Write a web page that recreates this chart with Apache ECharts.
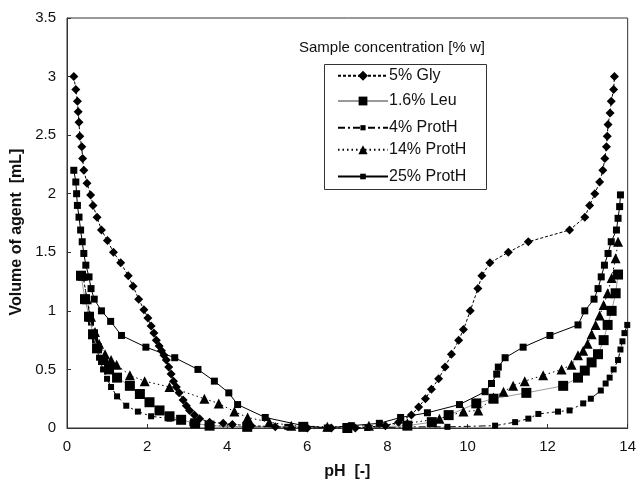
<!DOCTYPE html>
<html>
<head>
<meta charset="utf-8">
<script src="https://cdn.jsdelivr.net/npm/echarts@6/dist/echarts.min.js"></script>
<style>
  html, body { margin: 0; padding: 0; background: #fff; }
  #chart { width: 639px; height: 485px; }
</style>
</head>
<body>
<div id="chart"></div>
<script>
// 5% Gly
var glyPh = [0.17, 0.22, 0.26, 0.28, 0.3, 0.32, 0.37, 0.39, 0.42, 0.5, 0.59, 0.65, 0.75, 0.86, 1.01, 1.16, 1.34, 1.53, 1.65, 1.79, 1.92, 2.02, 2.1, 2.17, 2.23, 2.3, 2.36, 2.42, 2.48, 2.54, 2.6, 2.66, 2.73, 2.8, 2.9, 2.98, 3.06, 3.18, 3.31, 3.56, 3.9, 4.13, 4.6, 5.2, 6.0, 6.6, 7.2, 7.95, 8.28, 8.6, 8.78, 8.95, 9.1, 9.28, 9.44, 9.6, 9.78, 9.9, 10.07, 10.26, 10.36, 10.56, 11.02, 11.52, 12.55, 12.93, 13.05, 13.18, 13.3, 13.38, 13.43, 13.47, 13.49, 13.51, 13.56, 13.59, 13.65, 13.67];
var glyVol = [3.0, 2.89, 2.79, 2.7, 2.61, 2.49, 2.4, 2.3, 2.2, 2.09, 1.99, 1.9, 1.8, 1.69, 1.6, 1.5, 1.41, 1.3, 1.21, 1.1, 1.01, 0.94, 0.87, 0.81, 0.75, 0.7, 0.66, 0.62, 0.58, 0.52, 0.46, 0.4, 0.35, 0.3, 0.24, 0.19, 0.15, 0.11, 0.08, 0.05, 0.04, 0.03, 0.02, 0.01, 0.0, 0.0, 0.0, 0.02, 0.05, 0.11, 0.18, 0.25, 0.33, 0.42, 0.52, 0.63, 0.75, 0.84, 1.0, 1.19, 1.3, 1.41, 1.5, 1.59, 1.69, 1.8, 1.9, 2.0, 2.1, 2.2, 2.3, 2.4, 2.49, 2.59, 2.69, 2.79, 2.89, 3.0];

// 1.6% Leu
var leuPh = [0.35, 0.45, 0.55, 0.65, 0.75, 0.9, 1.05, 1.25, 1.57, 1.82, 2.06, 2.31, 2.56, 2.85, 3.2, 3.56, 4.5, 5.9, 7.0, 8.5, 9.11, 9.53, 10.22, 10.65, 11.47, 12.39, 12.76, 12.93, 13.1, 13.26, 13.4, 13.5, 13.6, 13.7, 13.76];
var leuVol = [1.3, 1.1, 0.95, 0.8, 0.68, 0.58, 0.5, 0.43, 0.36, 0.29, 0.22, 0.15, 0.1, 0.07, 0.04, 0.02, 0.01, 0.01, 0.0, 0.02, 0.05, 0.11, 0.21, 0.25, 0.3, 0.36, 0.43, 0.49, 0.56, 0.63, 0.75, 0.88, 1.0, 1.15, 1.31];

// 4% ProtH
var p4Ph = [0.4, 0.5, 0.6, 0.7, 0.8, 0.9, 1.0, 1.1, 1.25, 1.48, 1.77, 2.1, 2.56, 3.13, 3.6, 4.5, 5.5, 6.5, 7.5, 8.5, 9.5, 10.69, 11.19, 11.52, 11.77, 12.26, 12.55, 12.89, 13.08, 13.33, 13.45, 13.55, 13.65, 13.76, 13.82, 13.87, 13.92, 13.99];
var p4Vol = [1.3, 1.1, 0.9, 0.75, 0.6, 0.5, 0.42, 0.35, 0.27, 0.19, 0.14, 0.1, 0.08, 0.04, 0.02, 0.01, 0.01, 0.0, 0.0, 0.01, 0.01, 0.02, 0.05, 0.08, 0.12, 0.14, 0.15, 0.21, 0.25, 0.32, 0.38, 0.43, 0.5, 0.58, 0.67, 0.74, 0.81, 0.88];

// 14% ProtH
var p14Ph = [0.4, 0.5, 0.6, 0.7, 0.8, 0.95, 1.1, 1.24, 1.57, 1.94, 2.56, 3.43, 3.79, 4.18, 4.51, 5.05, 5.6, 6.5, 7.54, 8.5, 9.3, 9.9, 10.27, 10.65, 10.9, 11.14, 11.43, 11.89, 12.35, 12.6, 12.76, 12.89, 13.0, 13.1, 13.2, 13.3, 13.4, 13.5, 13.6, 13.7, 13.76];
var p14Vol = [1.3, 1.1, 0.95, 0.82, 0.72, 0.63, 0.58, 0.54, 0.45, 0.4, 0.35, 0.25, 0.21, 0.14, 0.09, 0.05, 0.02, 0.01, 0.02, 0.04, 0.08, 0.14, 0.15, 0.26, 0.31, 0.36, 0.4, 0.45, 0.5, 0.54, 0.62, 0.66, 0.72, 0.8, 0.88, 0.96, 1.05, 1.15, 1.28, 1.45, 1.59];

// 25% ProtH
var p25Ph = [0.17, 0.22, 0.24, 0.26, 0.3, 0.34, 0.38, 0.42, 0.47, 0.55, 0.6, 0.68, 0.86, 1.09, 1.36, 1.97, 2.69, 3.27, 3.68, 4.04, 4.26, 4.95, 5.9, 6.5, 7.1, 7.8, 8.33, 9.0, 9.8, 10.44, 10.6, 10.73, 10.77, 10.94, 11.39, 12.06, 12.76, 12.93, 13.16, 13.26, 13.34, 13.42, 13.51, 13.59, 13.72, 13.76, 13.8, 13.82];
var p25Vol = [2.2, 2.1, 2.0, 1.9, 1.8, 1.69, 1.59, 1.49, 1.39, 1.29, 1.19, 1.1, 1.0, 0.91, 0.79, 0.69, 0.6, 0.5, 0.4, 0.3, 0.2, 0.09, 0.02, 0.0, 0.02, 0.04, 0.09, 0.13, 0.2, 0.31, 0.38, 0.46, 0.52, 0.6, 0.69, 0.79, 0.88, 1.0, 1.1, 1.19, 1.29, 1.39, 1.49, 1.59, 1.69, 1.79, 1.89, 1.99];

var seriesNames = ['5% Gly', '1.6% Leu', '4% ProtH', '14% ProtH', '25% ProtH'];

function zip(xs, ys) {
  return xs.map(function (x, i) { return [x, ys[i]]; });
}

var font = "'Liberation Sans', Arial, sans-serif";
var diamond = 'path://M0,-1L1,0L0,1L-1,0Z';

// one legend per entry so each marker keeps its own size (legend marker = 80% of itemHeight)
var legendIconH = [12.5, 11, 6.5, 11.5, 7];
var legendRowY = [74, 98.5, 123, 147.5, 172];
var legends = seriesNames.map(function (name, i) {
  return {
    orient: 'vertical',
    left: 337,
    top: legendRowY[i] - legendIconH[i] / 2,
    padding: 0,
    itemWidth: 50,
    itemHeight: legendIconH[i],
    textStyle: { fontFamily: font, fontSize: 16, color: '#111', padding: [0, 0, 0, -4] },
    data: [name]
  };
});

var myChart = echarts.init(document.getElementById('chart'));
var options = {
  animation: false,
  backgroundColor: '#fff',
  textStyle: { fontFamily: font },
  title: {
    text: 'Sample concentration [% w]',
    left: 299,
    top: 40,
    padding: 0,
    textStyle: { fontFamily: font, fontSize: 15, fontWeight: 'normal', color: '#111' }
  },
  graphic: [{
    type: 'rect',
    left: 322,
    top: 62,
    shape: { width: 162, height: 125 },
    style: { fill: 'none', stroke: '#333', lineWidth: 1 },
    z: 10
  }],
  legend: legends,
  grid: {
    left: 67,
    right: 9,
    top: 18,
    bottom: 54,
    show: true,
    borderColor: '#333',
    borderWidth: 1
  },
  xAxis: {
    type: 'value',
    min: 0,
    max: 14,
    interval: 2,
    name: 'pH  [-]',
    nameLocation: 'center',
    nameGap: 36,
    nameTextStyle: { fontFamily: font, fontSize: 16, fontWeight: 'bold', color: '#111' },
    axisLine: { lineStyle: { color: '#333' } },
    axisTick: { inside: true, length: 4, lineStyle: { color: '#333' } },
    axisLabel: { fontFamily: font, fontSize: 15, color: '#111', margin: 11 },
    splitLine: { show: false }
  },
  yAxis: {
    type: 'value',
    min: 0,
    max: 3.5,
    interval: 0.5,
    name: 'Volume of agent  [mL]',
    nameLocation: 'center',
    nameGap: 41,
    nameTextStyle: { fontFamily: font, fontSize: 16, fontWeight: 'bold', color: '#111', padding: [0, 18, 0, 0] },
    axisLine: { show: true, lineStyle: { color: '#333' } },
    axisTick: { show: true, inside: true, length: 4, lineStyle: { color: '#333' } },
    axisLabel: { fontFamily: font, fontSize: 15, color: '#111', margin: 11 },
    splitLine: { show: false }
  },
  series: [
    {
      name: '5% Gly',
      type: 'line',
      data: zip(glyPh, glyVol),
      symbol: diamond,
      symbolSize: 9,
      itemStyle: { color: '#000' },
      lineStyle: { color: '#000', width: 1, type: [3, 2] },
      z: 5
    },
    {
      name: '1.6% Leu',
      type: 'line',
      data: zip(leuPh, leuVol),
      symbol: 'rect',
      symbolSize: 10,
      itemStyle: { color: '#000' },
      lineStyle: { color: '#999', width: 1 },
      z: 3
    },
    {
      name: '4% ProtH',
      type: 'line',
      data: zip(p4Ph, p4Vol),
      symbol: 'rect',
      symbolSize: 6,
      itemStyle: { color: '#000' },
      lineStyle: { color: '#000', width: 1, type: [7, 3, 2, 3] },
      z: 2
    },
    {
      name: '14% ProtH',
      type: 'line',
      data: zip(p14Ph, p14Vol),
      symbol: 'triangle',
      symbolSize: 10,
      itemStyle: { color: '#000' },
      lineStyle: { color: '#000', width: 1, type: [1.5, 3] },
      z: 4
    },
    {
      name: '25% ProtH',
      type: 'line',
      data: zip(p25Ph, p25Vol),
      symbol: 'rect',
      symbolSize: 7,
      itemStyle: { color: '#000' },
      lineStyle: { color: '#000', width: 1 },
      z: 4
    }
  ]
};
myChart.setOption(options);
window.onresize = myChart.resize;
</script>
</body>
</html>
